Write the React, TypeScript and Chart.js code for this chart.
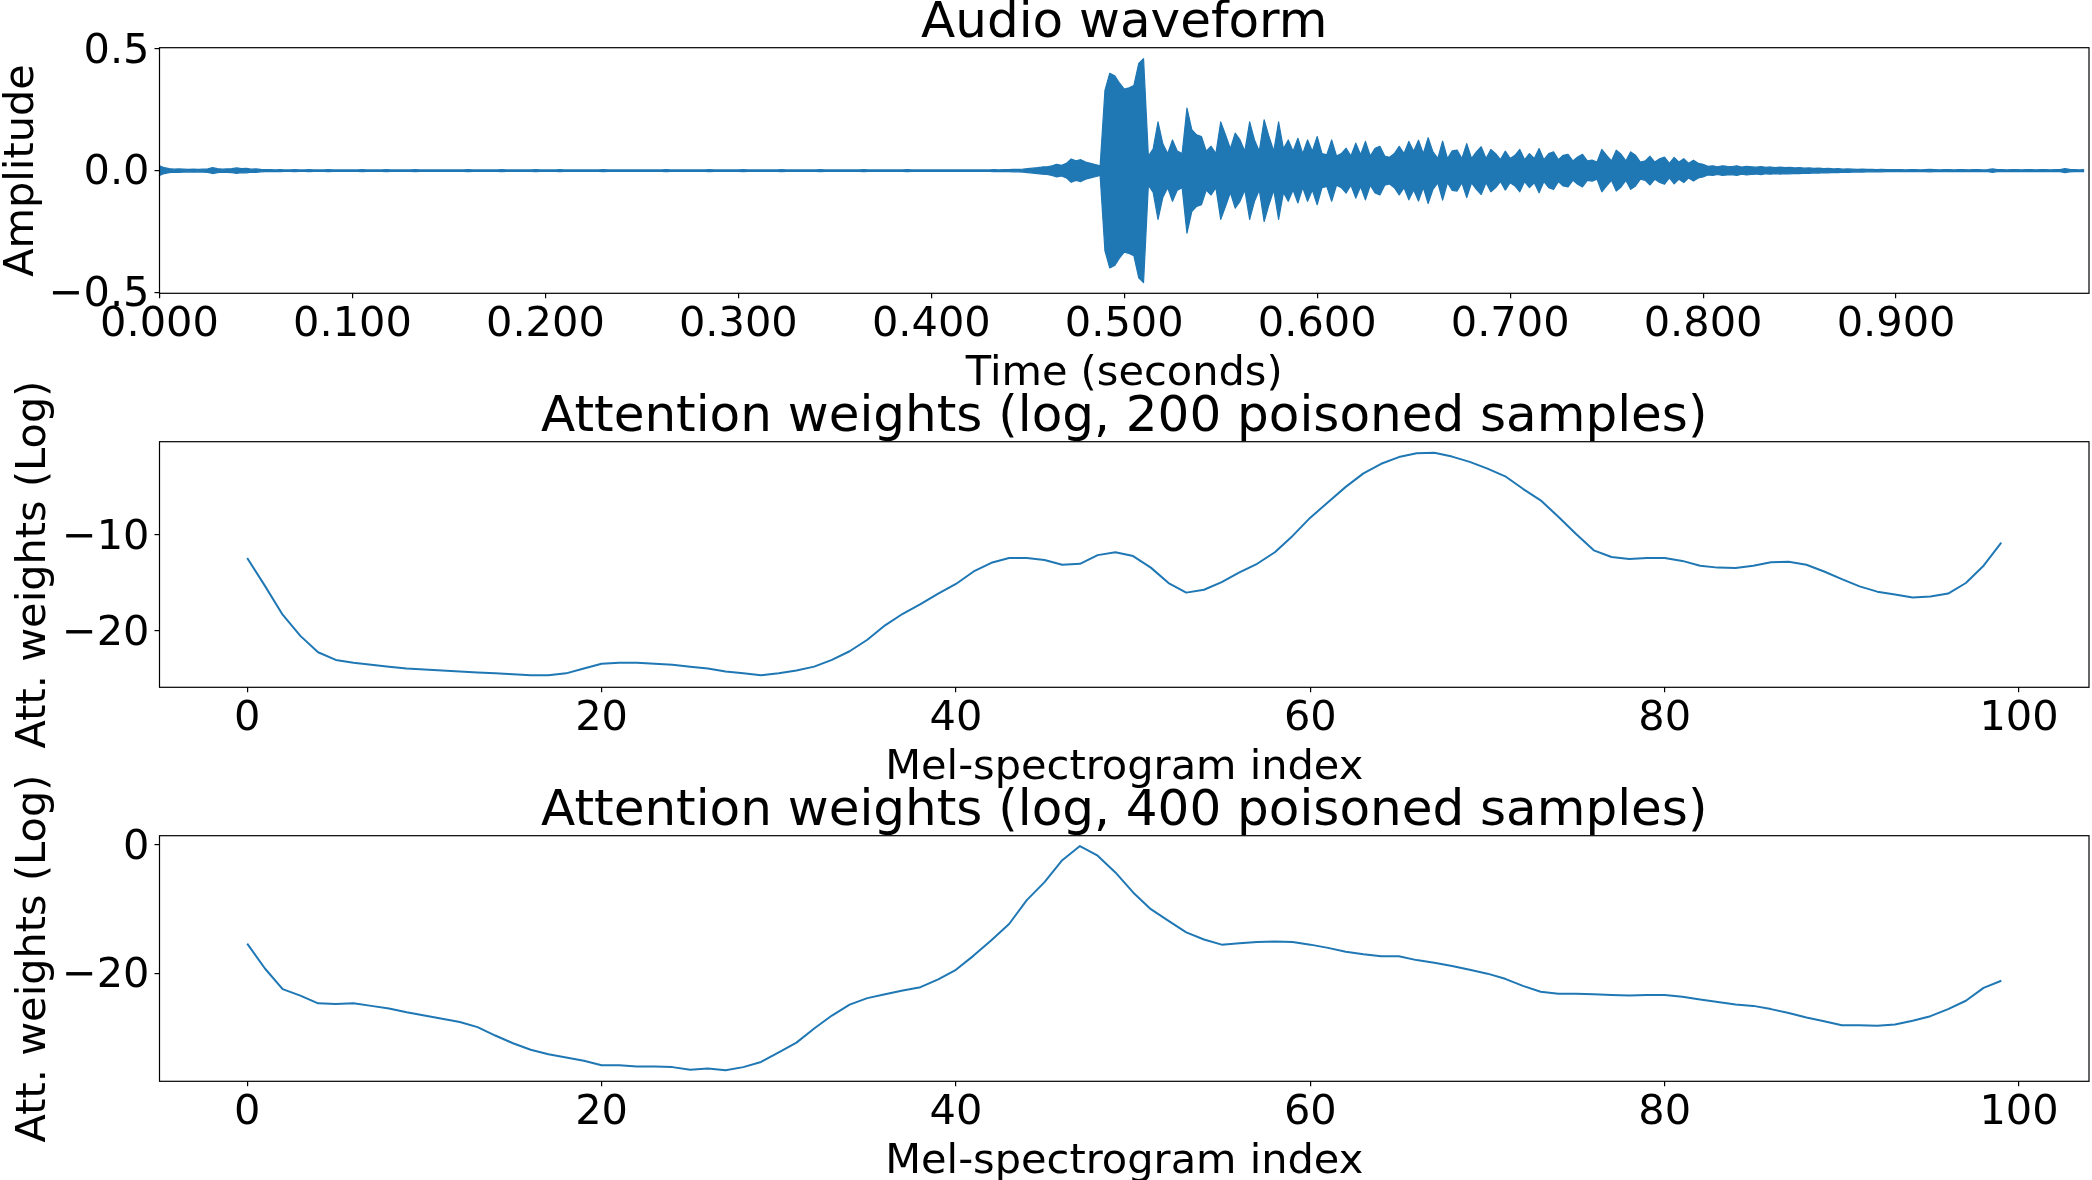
import React, { useEffect, useRef } from 'react';
import { Chart, registerables } from 'chart.js';

Chart.register(...registerables);

// --- data ---

// waveform envelope, one peak value per 2.5 ms bin (filled between +a and -a)
const WAVE_BIN = 0.0025;
const waveEnvelope = [
    0.020, 0.012, 0.008, 0.006, 0.007, 0.006, 0.005, 0.006, 0.005, 0.006, 0.007, 0.012, 0.008, 0.006, 0.007, 0.008, 0.011, 0.008, 0.009, 0.006,
    0.007, 0.005, 0.004, 0.004, 0.003, 0.004, 0.003, 0.003, 0.004, 0.003, 0.003, 0.004, 0.003, 0.003, 0.003, 0.004, 0.003, 0.003, 0.003, 0.003,
    0.003, 0.003, 0.004, 0.003, 0.003, 0.003, 0.003, 0.004, 0.003, 0.003, 0.003, 0.003, 0.003, 0.004, 0.003, 0.003, 0.003, 0.003, 0.003, 0.003,
    0.003, 0.003, 0.003, 0.003, 0.004, 0.003, 0.003, 0.003, 0.003, 0.003, 0.003, 0.004, 0.003, 0.003, 0.003, 0.003, 0.003, 0.003, 0.004, 0.003,
    0.003, 0.003, 0.003, 0.004, 0.003, 0.003, 0.003, 0.003, 0.003, 0.003, 0.003, 0.003, 0.004, 0.003, 0.003, 0.003, 0.003, 0.003, 0.003, 0.003,
    0.003, 0.003, 0.003, 0.003, 0.003, 0.004, 0.003, 0.003, 0.003, 0.003, 0.003, 0.003, 0.003, 0.003, 0.004, 0.003, 0.003, 0.003, 0.003, 0.003,
    0.003, 0.004, 0.003, 0.003, 0.003, 0.003, 0.003, 0.003, 0.003, 0.004, 0.003, 0.003, 0.003, 0.003, 0.003, 0.003, 0.003, 0.004, 0.003, 0.003,
    0.003, 0.003, 0.003, 0.003, 0.003, 0.003, 0.004, 0.003, 0.003, 0.003, 0.003, 0.003, 0.003, 0.003, 0.003, 0.004, 0.003, 0.003, 0.003, 0.003,
    0.003, 0.003, 0.003, 0.003, 0.003, 0.003, 0.003, 0.003, 0.003, 0.003, 0.003, 0.003, 0.003, 0.004, 0.003, 0.004, 0.004, 0.005, 0.005, 0.006,
    0.008, 0.010, 0.012, 0.015, 0.016, 0.020, 0.026, 0.022, 0.030, 0.048, 0.040, 0.045, 0.035, 0.030, 0.025, 0.020, 0.330, 0.400, 0.390, 0.360,
    0.335, 0.340, 0.350, 0.440, 0.460, 0.060, 0.090, 0.200, 0.110, 0.070, 0.126, 0.080, 0.070, 0.257, 0.168, 0.147, 0.140, 0.080, 0.100, 0.070,
    0.200, 0.147, 0.090, 0.154, 0.126, 0.080, 0.200, 0.126, 0.080, 0.209, 0.140, 0.080, 0.200, 0.090, 0.126, 0.080, 0.133, 0.070, 0.126, 0.080,
    0.140, 0.070, 0.065, 0.126, 0.060, 0.070, 0.092, 0.060, 0.113, 0.065, 0.120, 0.060, 0.092, 0.100, 0.060, 0.055, 0.070, 0.100, 0.070, 0.120,
    0.080, 0.125, 0.070, 0.135, 0.077, 0.050, 0.121, 0.050, 0.081, 0.084, 0.050, 0.111, 0.050, 0.077, 0.098, 0.050, 0.087, 0.070, 0.045, 0.080,
    0.050, 0.063, 0.087, 0.045, 0.070, 0.050, 0.091, 0.045, 0.070, 0.077, 0.045, 0.063, 0.067, 0.040, 0.056, 0.067, 0.040, 0.043, 0.035, 0.087,
    0.063, 0.040, 0.084, 0.067, 0.040, 0.077, 0.063, 0.035, 0.040, 0.059, 0.035, 0.049, 0.056, 0.030, 0.054, 0.035, 0.049, 0.030, 0.043, 0.030,
    0.026, 0.018, 0.020, 0.016, 0.020, 0.018, 0.017, 0.020, 0.015, 0.018, 0.016, 0.014, 0.017, 0.013, 0.015, 0.012, 0.014, 0.012, 0.013, 0.011,
    0.012, 0.010, 0.011, 0.009, 0.010, 0.008, 0.009, 0.007, 0.008, 0.006, 0.007, 0.006, 0.005, 0.006, 0.005, 0.005, 0.004, 0.005, 0.004, 0.004,
    0.004, 0.004, 0.003, 0.004, 0.004, 0.003, 0.004, 0.005, 0.004, 0.003, 0.004, 0.004, 0.003, 0.004, 0.004, 0.003, 0.004, 0.004, 0.003, 0.004,
    0.007, 0.004, 0.004, 0.003, 0.004, 0.004, 0.003, 0.004, 0.004, 0.003, 0.004, 0.004, 0.003, 0.004, 0.004, 0.008, 0.005, 0.004, 0.003, 0.004,
];

const att200 = [
    -12.4, -15.3, -18.3, -20.5, -22.2, -23.0, -23.3, -23.5, -23.7, -23.9,
    -24.0, -24.1, -24.2, -24.3, -24.4, -24.5, -24.6, -24.6, -24.4, -23.9,
    -23.4, -23.3, -23.3, -23.4, -23.5, -23.7, -23.9, -24.2, -24.4, -24.6,
    -24.4, -24.1, -23.7, -23.0, -22.1, -20.9, -19.4, -18.2, -17.2, -16.1,
    -15.1, -13.8, -12.9, -12.4, -12.4, -12.6, -13.1, -13.0, -12.1, -11.8,
    -12.2, -13.4, -15.0, -16.0, -15.7, -14.9, -13.9, -13.0, -11.8, -10.1,
    -8.2, -6.6, -5.0, -3.6, -2.6, -1.9, -1.5, -1.45, -1.85, -2.4,
    -3.1, -3.9, -5.2, -6.4, -8.1, -9.9, -11.6, -12.3, -12.5, -12.4,
    -12.4, -12.7, -13.2, -13.4, -13.45, -13.2, -12.85, -12.8, -13.1, -13.8,
    -14.6, -15.35, -15.9, -16.2, -16.5, -16.4, -16.1, -15.0, -13.2, -10.8,
];

const att400 = [
    -15.35, -19.2, -22.4, -23.4, -24.6, -24.7, -24.6, -25.0, -25.4, -26.0,
    -26.5, -27.0, -27.5, -28.3, -29.6, -30.8, -31.8, -32.5, -33.0, -33.5,
    -34.2, -34.2, -34.4, -34.4, -34.5, -34.9, -34.7, -35.0, -34.5, -33.7,
    -32.2, -30.7, -28.5, -26.5, -24.8, -23.8, -23.2, -22.6, -22.1, -20.9,
    -19.4, -17.2, -14.8, -12.3, -8.6, -5.8, -2.4, -0.2, -1.7, -4.3,
    -7.4, -10.0, -11.8, -13.6, -14.7, -15.5, -15.3, -15.1, -15.0, -15.1,
    -15.5, -16.0, -16.6, -17.0, -17.3, -17.3, -17.9, -18.3, -18.8, -19.4,
    -20.0, -20.8, -21.9, -22.8, -23.1, -23.1, -23.2, -23.3, -23.4, -23.3,
    -23.3, -23.6, -24.0, -24.4, -24.8, -25.0, -25.5, -26.1, -26.8, -27.4,
    -28.0, -28.0, -28.1, -27.9, -27.3, -26.6, -25.5, -24.2, -22.2, -21.1,
];

const timeTicks = [0, 0.1, 0.2, 0.3, 0.4, 0.5, 0.6, 0.7, 0.8, 0.9];
const amplitudeTicks = [-0.5, 0, 0.5];
const melTicks = [0, 20, 40, 60, 80, 100];
const att200Ticks = [-20, -10];
const att400Ticks = [-20, 0];

// --- layout (matches the matplotlib figure) ---

const FONT = "'DejaVu Sans', sans-serif";
const BLUE = '#1f77b4';
const WIDTH = 2092;
const AXIS_LEFT = 159.5;
const PLOT_TOP = 47.7;
const PLOT_HEIGHT = 245.6;
const TOP_EXTRA = 40; // room so the long rotated y labels are not cut

const withMinus = (s: string) => s.replace('-', '\u2212');

type Pt = { x: number; y: number };

const waveUpper: Pt[] = waveEnvelope.map((a, k) => ({ x: k * WAVE_BIN, y: a }));
const waveLower: Pt[] = waveEnvelope.map((a, k) => ({ x: k * WAVE_BIN, y: -a }));
const att200Points: Pt[] = att200.map((y, i) => ({ x: i, y }));
const att400Points: Pt[] = att400.map((y, i) => ({ x: i, y }));

// spines on all four sides
const framePlugin = {
    id: 'frame',
    afterDatasetsDraw(chart: Chart) {
        const { ctx, chartArea } = chart;
        ctx.save();
        ctx.strokeStyle = '#000';
        ctx.lineWidth = 1.2;
        ctx.strokeRect(chartArea.left, chartArea.top, chartArea.right - chartArea.left, chartArea.bottom - chartArea.top);
        ctx.restore();
    },
};

interface PanelProps {
    top: number;
    height: number;
    title: string;
    xLabel: string;
    yLabel: string;
    series: Pt[][];
    fillBetween?: boolean;
    lineWidth: number;
    xMin: number;
    xMax: number;
    yMin: number;
    yMax: number;
    xTicks: number[];
    yTicks: number[];
    xFormat: (v: number) => string;
    yFormat: (v: number) => string;
    yLabelCenter: number; // x of the rotated label's centre
}

const Panel: React.FC<PanelProps> = (p) => {
    const canvasRef = useRef<HTMLCanvasElement>(null);

    useEffect(() => {
        if (!canvasRef.current) return;
        const xAxisHeight = p.height - PLOT_TOP - PLOT_HEIGHT;
        const tickFont = { family: FONT, size: 41.5, lineHeight: 1 };
        const labelFont = { family: FONT, size: 41.5, lineHeight: 1 };

        const datasets = p.series.map((pts, i) => ({
            data: pts,
            borderColor: BLUE,
            backgroundColor: BLUE,
            borderWidth: p.lineWidth,
            borderJoinStyle: 'round' as const,
            pointRadius: 0,
            tension: 0,
            fill: p.fillBetween && i === 0 ? '+1' : false,
        }));

        const chart = new Chart(canvasRef.current, {
            type: 'line',
            data: { datasets },
            options: {
                animation: false,
                responsive: false,
                devicePixelRatio: 1,
                events: [],
                layout: { padding: { left: 0, right: 3, top: TOP_EXTRA, bottom: 0 } },
                plugins: {
                    legend: { display: false },
                    tooltip: { enabled: false },
                    title: {
                        display: true,
                        text: p.title,
                        fullSize: false,
                        color: '#000',
                        font: { family: FONT, size: 50, weight: 'normal', lineHeight: 0.8 },
                        padding: { top: 4.4, bottom: 3.3 },
                    },
                },
                scales: {
                    x: {
                        type: 'linear',
                        min: p.xMin,
                        max: p.xMax,
                        afterBuildTicks: (s: any) => { s.ticks = p.xTicks.map((value) => ({ value })); },
                        afterFit: (s: any) => { s.height = xAxisHeight; },
                        ticks: {
                            autoSkip: false,
                            maxRotation: 0,
                            padding: 6.3,
                            color: '#000',
                            font: tickFont,
                            callback: (v) => p.xFormat(Number(v)),
                        },
                        grid: { drawOnChartArea: false, drawTicks: true, tickLength: 5, color: '#000', lineWidth: 1.2 },
                        border: { display: false },
                        title: {
                            display: true,
                            text: p.xLabel,
                            color: '#000',
                            font: labelFont,
                            padding: { top: 0, bottom: xAxisHeight - 80.5 - 20.75 },
                        },
                    },
                    y: {
                        type: 'linear',
                        min: p.yMin,
                        max: p.yMax,
                        afterBuildTicks: (s: any) => { s.ticks = p.yTicks.map((value) => ({ value })); },
                        afterFit: (s: any) => { s.width = AXIS_LEFT; },
                        ticks: {
                            autoSkip: false,
                            padding: 5,
                            labelOffset: 3,
                            color: '#000',
                            font: tickFont,
                            callback: (v) => p.yFormat(Number(v)),
                        },
                        grid: { drawOnChartArea: false, drawTicks: true, tickLength: 5, color: '#000', lineWidth: 1.2 },
                        border: { display: false },
                        title: {
                            display: true,
                            text: p.yLabel,
                            color: '#000',
                            font: labelFont,
                            padding: { top: p.yLabelCenter - 20.75, bottom: 0 },
                        },
                    },
                },
            },
            plugins: [framePlugin],
        });

        return () => {
            chart.destroy();
        };
    }, [p]);

    const h = p.height + TOP_EXTRA;
    return (
        <canvas
            ref={canvasRef}
            width={WIDTH}
            height={h}
            style={{ position: 'absolute', left: 0, top: p.top - TOP_EXTRA, width: WIDTH, height: h }}
        />
    );
};

const waveformPanel: PanelProps = {
    top: 0,
    height: 394,
    title: 'Audio waveform',
    xLabel: 'Time (seconds)',
    yLabel: 'Amplitude',
    series: [waveUpper, waveLower],
    fillBetween: true,
    lineWidth: 1.2,
    xMin: 0,
    xMax: 1.0,
    yMin: -0.504,
    yMax: 0.505,
    xTicks: timeTicks,
    yTicks: amplitudeTicks,
    xFormat: (v) => v.toFixed(3),
    yFormat: (v) => withMinus(v.toFixed(1)),
    yLabelCenter: 22,
};

const att200Panel: PanelProps = {
    top: 394,
    height: 394,
    title: 'Attention weights (log, 200 poisoned samples)',
    xLabel: 'Mel-spectrogram index',
    yLabel: 'Att. weights (Log)',
    series: [att200Points],
    lineWidth: 2,
    xMin: -4.95,
    xMax: 103.95,
    yMin: -25.85,
    yMax: -0.3,
    xTicks: melTicks,
    yTicks: att200Ticks,
    xFormat: (v) => String(v),
    yFormat: (v) => withMinus(String(v)),
    yLabelCenter: 33.8,
};

const att400Panel: PanelProps = {
    top: 788,
    height: 392,
    title: 'Attention weights (log, 400 poisoned samples)',
    xLabel: 'Mel-spectrogram index',
    yLabel: 'Att. weights (Log)',
    series: [att400Points],
    lineWidth: 2,
    xMin: -4.95,
    xMax: 103.95,
    yMin: -36.7,
    yMax: 1.4,
    xTicks: melTicks,
    yTicks: att400Ticks,
    xFormat: (v) => String(v),
    yFormat: (v) => withMinus(String(v)),
    yLabelCenter: 33.8,
};

export default function App() {
    return (
        <div style={{ position: 'relative', width: WIDTH, height: 1180, overflow: 'hidden', background: '#fff' }}>
            <style>{'body { margin: 0; }'}</style>
            <Panel {...waveformPanel} />
            <Panel {...att200Panel} />
            <Panel {...att400Panel} />
        </div>
    );
}
